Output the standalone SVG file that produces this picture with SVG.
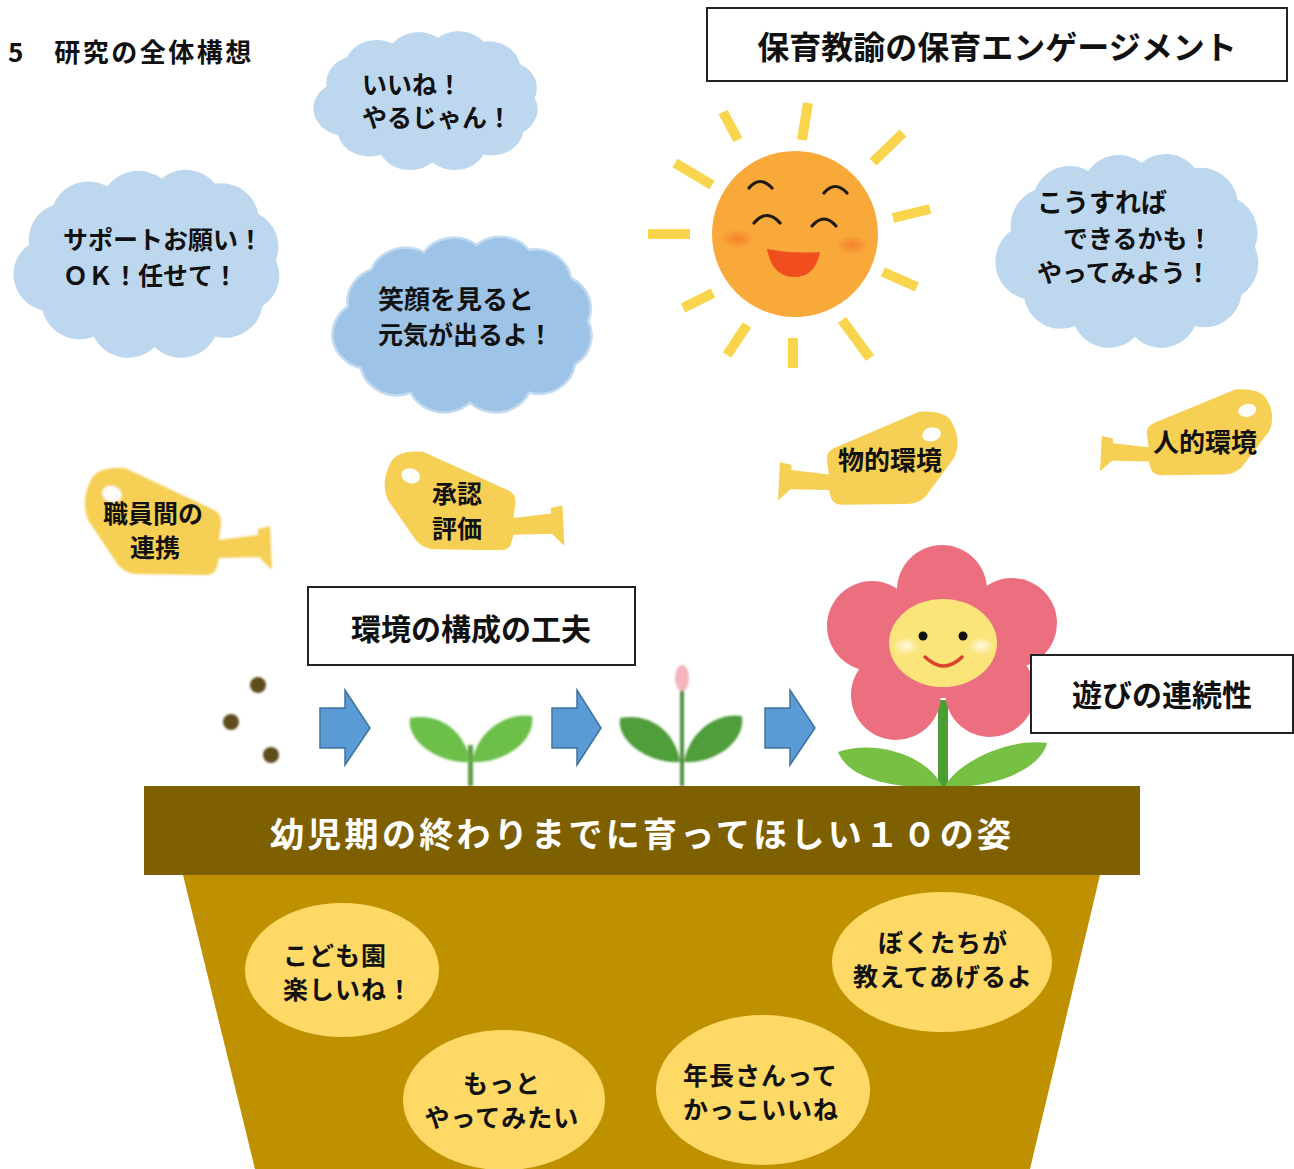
<svg xmlns="http://www.w3.org/2000/svg" width="1294" height="1169" viewBox="0 0 1294 1169">
  <style>
    .t { font-family: "Noto Sans CJK JP", "Noto Sans", sans-serif; font-weight: bold; fill: #111; }
    .cloud { fill: #bdd7ee; }
    .cloud-dark { fill: #9dc3e6; stroke: #c3dbf0; stroke-width: 2; }
    .box { fill: #fff; stroke: #222; stroke-width: 2; }
    .can { fill: #f6cf55; }
    .ray { stroke: #f8d54c; stroke-width: 10; stroke-linecap: butt; }
    .face-line { fill: none; stroke: #1f1a14; stroke-width: 3.2; stroke-linecap: round; }
    .arrow { fill: #5b9bd5; stroke: #41719c; stroke-width: 1.5; }
    .bubble { fill: #ffd966; }
    .bt { font-size: 25px; letter-spacing: 1px; }
    .leaf-light { fill: #6cc04a; }
    .leaf-dark { fill: #4f9d3a; }
  </style>
  <defs>
    <!-- bumpy cloud outline in a 204x142 box -->
    <path id="cloudShape" d="M12,58 A28,28 0 0 1 30,28 A28,28 0 0 1 70,14 A28,28 0 0 1 110,8 A28,28 0 0 1 150,12 A28,28 0 0 1 182,35 A28,28 0 0 1 195,70 A28,28 0 0 1 185,105 A28,28 0 0 1 150,128 A28,28 0 0 1 105,136 A28,28 0 0 1 60,128 A28,28 0 0 1 22,108 A28,28 0 0 1 12,58 Z"/>
    <!-- watering can, spout to the right -->
    <g id="canShape">
      <path class="can" d="M92,478 Q100,466 125,468 L214,510 Q222,514 221,524 L219,540 L258,535 L258,529 L270,526 L272,570 L259,557 L219,558 L217,566 Q215,575 205,575 L138,574 Q126,574 118,565 L88,520 Q80,500 92,478 Z"/>
      <ellipse cx="112" cy="494" rx="10" ry="8" fill="#fdfdfb" transform="rotate(20 112 494)"/>
    </g>
    <radialGradient id="cheekSun">
      <stop offset="0" stop-color="#f47a28" stop-opacity="0.85"/>
      <stop offset="1" stop-color="#f47a28" stop-opacity="0"/>
    </radialGradient>
    <radialGradient id="cheekFlower">
      <stop offset="0" stop-color="#ffffff" stop-opacity="0.8"/>
      <stop offset="1" stop-color="#ffffff" stop-opacity="0"/>
    </radialGradient>
    <filter id="soft" x="-10%" y="-10%" width="120%" height="120%">
      <feGaussianBlur stdDeviation="0.8"/>
    </filter>
  </defs>

  <rect width="1294" height="1169" fill="#ffffff"/>

  <g id="title">
    <text class="t" x="8" y="62" font-size="26" letter-spacing="2.5">5　研究の全体構想</text>
  </g>

  <g id="engagement-box">
    <rect class="box" x="707" y="8" width="580" height="73"/>
    <text class="t" x="997" y="59" font-size="32" text-anchor="middle">保育教諭の保育エンゲージメント</text>
  </g>

  <!-- speech clouds -->
  <g id="cloud-iine">
    <use href="#cloudShape" class="cloud" transform="translate(313,30) scale(1.137,0.972)"/>
    <text class="t" x="362" y="94" font-size="25">いいね！</text>
    <text class="t" x="362" y="127" font-size="25">やるじゃん！</text>
  </g>
  <g id="cloud-support">
    <use href="#cloudShape" class="cloud" transform="translate(13,168) scale(1.348,1.317)"/>
    <text class="t" x="63" y="249" font-size="25">サポートお願い！</text>
    <text class="t" x="63" y="285" font-size="25">ＯＫ！任せて！</text>
  </g>
  <g id="cloud-egao">
    <use href="#cloudShape" class="cloud-dark" vector-effect="non-scaling-stroke" transform="translate(332,235) scale(1.314,1.232)"/>
    <text class="t" x="378" y="309" font-size="26">笑顔を見ると</text>
    <text class="t" x="378" y="344" font-size="25">元気が出るよ！</text>
  </g>
  <g id="cloud-kousureba">
    <use href="#cloudShape" class="cloud" transform="translate(995,152) scale(1.333,1.359)"/>
    <text class="t" x="1037" y="212" font-size="26">こうすれば</text>
    <text class="t" x="1063" y="248" font-size="25">できるかも！</text>
    <text class="t" x="1037" y="282" font-size="25">やってみよう！</text>
  </g>

  <!-- sun -->
  <g id="sun">
    <g class="ray">
      <line x1="723" y1="112" x2="738" y2="140"/>
      <line x1="808" y1="103" x2="802" y2="140"/>
      <line x1="903" y1="133" x2="873" y2="162"/>
      <line x1="675" y1="163" x2="712" y2="185"/>
      <line x1="893" y1="218" x2="930" y2="209"/>
      <line x1="648" y1="234" x2="690" y2="234"/>
      <line x1="883" y1="272" x2="917" y2="287"/>
      <line x1="683" y1="308" x2="713" y2="293"/>
      <line x1="747" y1="325" x2="727" y2="355"/>
      <line x1="793" y1="338" x2="793" y2="368"/>
      <line x1="842" y1="320" x2="870" y2="358"/>
    </g>
    <circle cx="795" cy="234" r="83" fill="#f9a93a"/>
    <ellipse cx="737" cy="239" rx="17" ry="10" fill="url(#cheekSun)"/>
    <ellipse cx="852" cy="245" rx="17" ry="10" fill="url(#cheekSun)"/>
    <path class="face-line" d="M749,188 Q760,175 772,188"/>
    <path class="face-line" d="M824,193 Q835,180 847,193"/>
    <path class="face-line" d="M754,223 Q767,208 780,223"/>
    <path class="face-line" d="M812,226 Q824,212 836,226"/>
    <path d="M767,249 Q793,254 820,252 Q815,278 793,277 Q772,276 767,249 Z" fill="#f04e1f"/>
  </g>

  <!-- watering cans -->
  <g id="can-renkei">
    <use href="#canShape" filter="url(#soft)"/>
    <text class="t" x="103" y="523" font-size="25">職員間の</text>
    <text class="t" x="130" y="557" font-size="25">連携</text>
  </g>
  <g id="can-shonin">
    <use href="#canShape" filter="url(#soft)" transform="translate(380,450) scale(0.96,0.92) translate(-80,-466)"/>
    <text class="t" x="432" y="503" font-size="25">承認</text>
    <text class="t" x="432" y="538" font-size="25">評価</text>
  </g>
  <g id="can-butteki">
    <use href="#canShape" filter="url(#soft)" transform="translate(778,410) scale(-0.96,0.87) translate(-272,-466)"/>
    <text class="t" x="838" y="470" font-size="26">物的環境</text>
  </g>
  <g id="can-jinteki">
    <use href="#canShape" filter="url(#soft)" transform="translate(1100,388) scale(-0.92,0.8) translate(-272,-466)"/>
    <text class="t" x="1153" y="452" font-size="26">人的環境</text>
  </g>

  <!-- growth sequence -->
  <g id="seeds" filter="url(#soft)">
    <circle cx="258" cy="685" r="8" fill="#5e4d1f"/>
    <circle cx="231" cy="722" r="8" fill="#5e4d1f"/>
    <circle cx="271" cy="755" r="8" fill="#5e4d1f"/>
  </g>
  <g id="sprout" filter="url(#soft)">
    <rect x="468" y="745" width="5" height="41" fill="#5f9e47"/>
    <path class="leaf-light" d="M470,762 C440,764 406,742 410,718 C440,712 466,732 470,762 Z"/>
    <path class="leaf-light" d="M472,762 C477,732 505,712 532,716 C536,742 502,764 472,762 Z"/>
  </g>
  <g id="bud" filter="url(#soft)">
    <rect x="680" y="688" width="4" height="98" fill="#4f8f3c"/>
    <ellipse cx="682" cy="678" rx="7" ry="13" fill="#f5b4be"/>
    <path class="leaf-dark" d="M680,762 C650,764 616,742 620,718 C650,712 676,732 680,762 Z"/>
    <path class="leaf-dark" d="M684,762 C689,732 716,712 742,716 C746,742 714,764 684,762 Z"/>
  </g>
  <g id="flower">
    <rect x="938" y="700" width="10" height="88" fill="#4a9e33"/>
    <path d="M942,786 C905,790 850,782 838,752 C870,740 925,752 942,786 Z" fill="#76c043"/>
    <path d="M945,786 C960,760 1010,738 1047,743 C1040,772 985,790 945,786 Z" fill="#76c043"/>
    <g fill="#ec6f80">
      <circle cx="942" cy="590" r="45"/>
      <circle cx="872" cy="626" r="45"/>
      <circle cx="1012" cy="623" r="45"/>
      <circle cx="896" cy="695" r="45"/>
      <circle cx="990" cy="692" r="45"/>
      <circle cx="943" cy="648" r="50"/>
    </g>
    <ellipse cx="943" cy="643" rx="54" ry="44" fill="#fbe57a"/>
    <ellipse cx="906" cy="646" rx="13" ry="9" fill="url(#cheekFlower)"/>
    <ellipse cx="981" cy="646" rx="13" ry="9" fill="url(#cheekFlower)"/>
    <circle cx="923" cy="636" r="4.5" fill="#111"/>
    <circle cx="963" cy="636" r="4.5" fill="#111"/>
    <path d="M925,657 Q944,675 962,657" fill="none" stroke="#d9442b" stroke-width="3.5" stroke-linecap="round"/>
  </g>

  <g id="kankyo-box">
    <rect class="box" x="308" y="587" width="327" height="78"/>
    <text class="t" x="471" y="640" font-size="30" text-anchor="middle">環境の構成の工夫</text>
  </g>
  <g id="asobi-box">
    <rect class="box" x="1031" y="655" width="262" height="78"/>
    <text class="t" x="1162" y="706" font-size="30" text-anchor="middle">遊びの連続性</text>
  </g>

  <!-- flower pot -->
  <g id="pot">
    <polygon points="183,875 1100,875 1030,1169 255,1169" fill="#bf9000"/>
    <rect x="144" y="786" width="996" height="89" fill="#7f6000"/>
    <text class="t" x="270" y="847" font-size="34" letter-spacing="3.3" style="fill:#ffffff">幼児期の終わりまでに育ってほしい１０の姿</text>
  </g>

  <g id="bubble-kodomoen">
    <ellipse class="bubble" cx="342" cy="970" rx="97" ry="67"/>
    <text class="t bt" x="283" y="965">こども園</text>
    <text class="t bt" x="283" y="999">楽しいね！</text>
  </g>
  <g id="bubble-bokutachi">
    <ellipse class="bubble" cx="942" cy="962" rx="110" ry="70"/>
    <text class="t bt" x="943" y="952" text-anchor="middle">ぼくたちが</text>
    <text class="t bt" x="943" y="986" text-anchor="middle">教えてあげるよ</text>
  </g>
  <g id="bubble-motto">
    <ellipse class="bubble" cx="504" cy="1100" rx="101" ry="70"/>
    <text class="t bt" x="502" y="1093" text-anchor="middle">もっと</text>
    <text class="t bt" x="502" y="1127" text-anchor="middle">やってみたい</text>
  </g>
  <g id="bubble-nenchou">
    <ellipse class="bubble" cx="763" cy="1090" rx="107" ry="75"/>
    <text class="t bt" x="683" y="1085">年長さんって</text>
    <text class="t bt" x="683" y="1119">かっこいいね</text>
  </g>

  <g id="connectors">
    <path class="arrow" d="M320,708 L345,708 L345,690 L370,728 L345,765 L345,748 L320,748 Z"/>
    <path class="arrow" d="M552,708 L577,708 L577,690 L601,728 L577,765 L577,748 L552,748 Z"/>
    <path class="arrow" d="M765,708 L790,708 L790,690 L815,728 L790,765 L790,748 L765,748 Z"/>
  </g>
</svg>
